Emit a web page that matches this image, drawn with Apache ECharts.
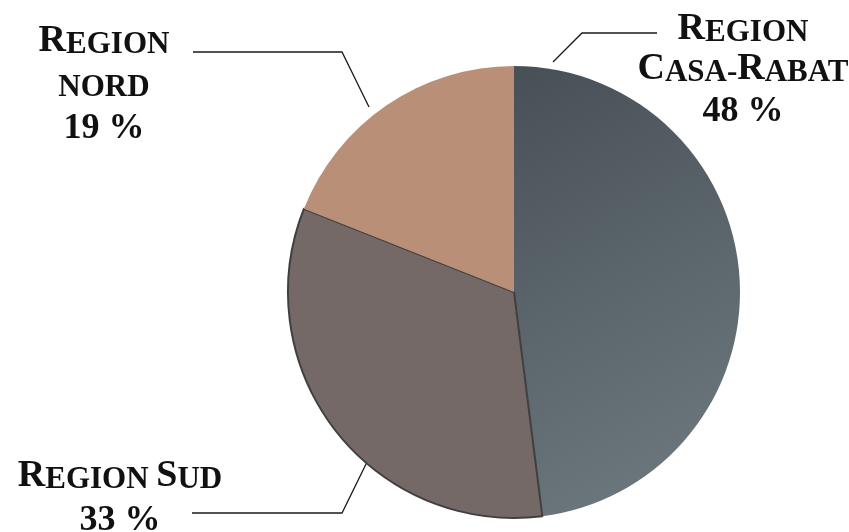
<!DOCTYPE html>
<html>
<head>
<meta charset="utf-8">
<script src="https://cdn.jsdelivr.net/npm/echarts@6/dist/echarts.min.js"></script>
<style>
  html, body { margin: 0; padding: 0; background: #ffffff; }
  #chart { width: 849px; height: 532px; }
</style>
</head>
<body>
<div id="chart"></div>
<script>
// Share of activity by region (percent)
const regions = ['Region Casa-Rabat', 'Region Sud', 'Region nord'];
const shares = [48, 33, 19];

// Label lines, written in small caps: [capital, rest] pieces per line
const labelLines = [
  [[['R', 'EGION']], [['C', 'ASA'], ['', '-'], ['R', 'ABAT']]],
  [[['R', 'EGION '], ['S', 'UD']]],
  [[['R', 'EGION']], [['', 'NORD']]]
];

const sliceColors = [
  new echarts.graphic.LinearGradient(0, 0, 1, 1, [
    { offset: 0, color: '#485057' },
    { offset: 1, color: '#707c82' }
  ]),
  '#756968',
  '#b98f77'
];

// Placement of each label block and its leader line
const labelPlacement = [
  { x: 743, y: 65, line: [[553, 62], [582, 33], [657, 33]] },
  { x: 120, y: 495, line: [[369, 458], [342, 513], [192, 513]] },
  { x: 104, y: 82, line: [[369, 107], [342, 52], [193, 52]] }
];

// Per-slice line heights for the stacked label lines
const lineHeights = [[48, 40, 42], [44, 44], [43, 43, 43]];

function buildLabel(idx) {
  const lines = labelLines[idx].map(function (parts, li) {
    return parts.map(function (p) {
      let s = '';
      if (p[0]) s += '{big' + li + '|' + p[0] + '}';
      if (p[1]) s += '{small' + li + '|' + p[1] + '}';
      return s;
    }).join('');
  });
  const li = lines.length;
  lines.push('{num' + li + '|' + shares[idx] + ' %}');
  return lines.join('\n');
}

function buildRich(idx) {
  const rich = {};
  lineHeights[idx].forEach(function (h, li) {
    const base = { fontFamily: 'Liberation Serif', fontWeight: 'bold', color: '#111111', lineHeight: h, verticalAlign: 'bottom' };
    rich['big' + li] = Object.assign({}, base, { fontSize: 38 });
    rich['small' + li] = Object.assign({}, base, { fontSize: 31 });
    rich['num' + li] = Object.assign({}, base, { fontSize: 36, fontWeight: 600 });
  });
  return rich;
}

const chart = echarts.init(document.getElementById('chart'), null, { renderer: 'canvas' });

chart.setOption({
  animation: false,
  backgroundColor: '#ffffff',
  series: [{
    type: 'pie',
    center: [514, 292],
    radius: [0, 226],
    startAngle: 90,
    clockwise: true,
    avoidLabelOverlap: false,
    data: regions.map(function (name, i) {
      const item = {
        name: name,
        value: shares[i],
        itemStyle: { color: sliceColors[i] },
        label: { formatter: buildLabel(i), rich: buildRich(i) }
      };
      if (i === 1) {
        item.itemStyle.borderColor = '#404040';
        item.itemStyle.borderWidth = 2;
      }
      return item;
    }),
    label: {
      show: true,
      position: 'outside',
      align: 'center'
    },
    labelLine: {
      show: true,
      lineStyle: { color: '#1a1a1a', width: 1.3 }
    },
    labelLayout: function (params) {
      const p = labelPlacement[params.dataIndex];
      return {
        x: p.x,
        y: p.y,
        align: 'center',
        verticalAlign: 'middle',
        labelLinePoints: p.line
      };
    },
    emphasis: { disabled: true }
  }]
});
</script>
</body>
</html>
